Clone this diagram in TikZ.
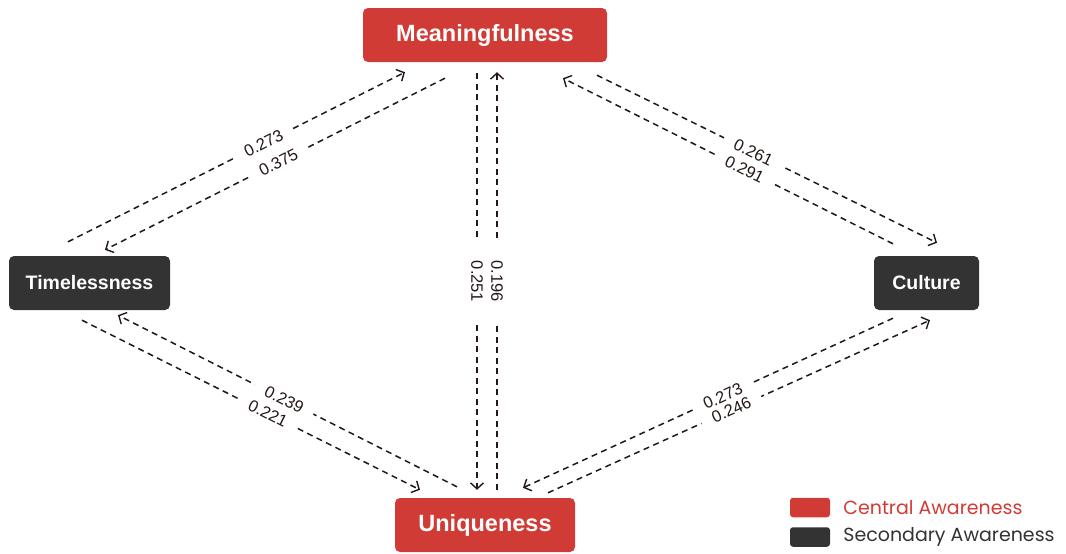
\documentclass[tikz,border=0pt]{standalone}
\usepackage{fontspec}
\setmainfont{Liberation Sans}
\newfontfamily\legendfont{Poppins}
\usetikzlibrary{arrows.meta,positioning}
\definecolor{centralred}{HTML}{D13B35}
\definecolor{darkbox}{HTML}{333333}
\definecolor{inkline}{HTML}{231815}

\begin{document}
\begin{tikzpicture}[x=1pt, y=-1pt,
    box/.style={rounded corners=5pt, text=white, inner sep=0pt, minimum height=54pt},
    link/.style={draw=inkline, dash pattern=on 6pt off 4.5pt, line width=1.5pt,
        -{Straight Barb[length=6pt,width=13pt,line width=1.4pt]}},
    lbl/.style={fill=white, text=inkline, inner xsep=12pt, inner ysep=0pt,
        font=\fontsize{16.5}{18}\selectfont},
    legbox/.style={rounded corners=3pt, minimum width=40pt, minimum height=19.5pt, inner sep=0pt}]

    \useasboundingbox (0,0) rectangle (1066,554);

    % Awareness nodes
    \node[box, fill=centralred, minimum width=244pt, font=\fontsize{23.5}{26}\selectfont\bfseries] (Meaning) at (485,35) {Meaningfulness};
    \node[box, fill=centralred, minimum width=180pt, font=\fontsize{23.5}{26}\selectfont\bfseries] (Unique) at (485,525) {Uniqueness};
    \node[box, fill=darkbox, minimum width=161pt, font=\fontsize{19.5}{22}\selectfont\bfseries] (Time) at (89.5,283) {Timelessness};
    \node[box, fill=darkbox, minimum width=105pt, font=\fontsize{19.5}{22}\selectfont\bfseries] (Culture) at (926.5,283) {Culture};

    % Diagonal links
    \foreach \s/\ss/\e/\es/\p/\v in {
        Time.north/{-21.5,-14}/Meaning.south/{-80,10}/0.58/0.273,
        Meaning.south/{-40,16}/Time.north/{15.5,-6}/0.49/0.375,
        Meaning.south/{112,13}/Culture.north/{10.5,-13}/0.46/0.261,
        Culture.north/{-33.5,-12}/Meaning.south/{78,16}/0.45/0.291,
        Unique.north/{-28,-11}/Time.south/{28.5,5}/0.51/0.239,
        Time.south/{-7.5,10}/Unique.north/{-65,-8}/0.55/0.221,
        Culture.south/{-33.5,8}/Unique.north/{38,-10}/0.46/0.273,
        Unique.north/{63,-5}/Culture.south/{3.5,10}/0.48/0.246}
    {
        \draw[link] ([shift={(\ss)}]\s) -- node[lbl, sloped, pos=\p] {\v} ([shift={(\es)}]\e);
    }

    % Vertical links
    \draw[link] ([shift={(-8,11)}]Meaning.south) -- node[lbl, rotate=-90, inner xsep=21pt] {0.251} ([shift={(-8,-8)}]Unique.north);
    \draw[link] ([shift={(12,-8)}]Unique.north) -- node[lbl, rotate=-90, inner xsep=21pt] {0.196} ([shift={(12,10)}]Meaning.south);

    % Legend
    \node[legbox, fill=centralred] (LegCentral) at (810,507.5) {};
    \node[legbox, fill=darkbox] (LegSecondary) at (810,537) {};
    \node[right=13pt of LegCentral, inner sep=0pt, text=centralred, font=\legendfont\fontsize{19}{21}\selectfont] (LegCentralText) {Central Awareness};
    \node[right=13pt of LegSecondary, inner sep=0pt, text=darkbox, font=\legendfont\fontsize{19}{21}\selectfont] (LegSecondaryText) {Secondary Awareness};

\end{tikzpicture}
\end{document}
